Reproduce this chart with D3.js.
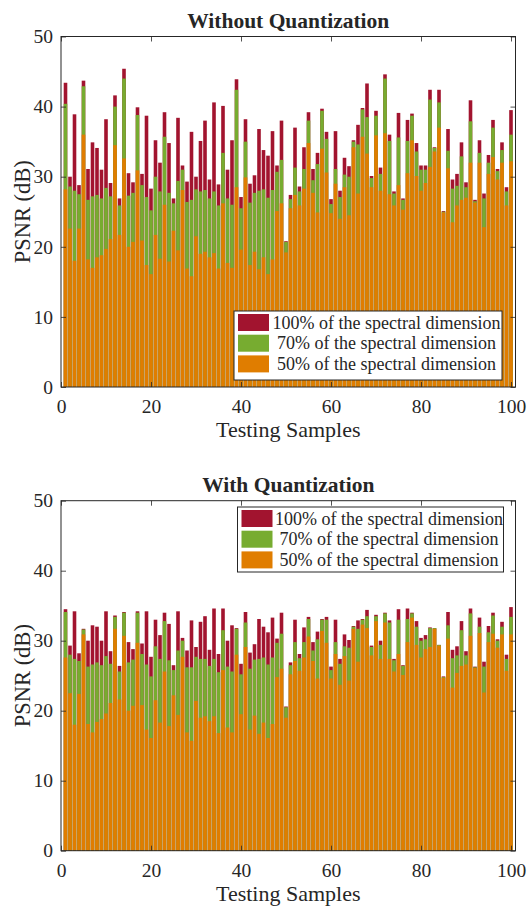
<!DOCTYPE html>
<html>
<head>
<meta charset="utf-8">
<script src="https://cdn.jsdelivr.net/npm/d3@7"></script>
<style>
  body { margin: 0; background: #fff; }
  text { font-family: "Liberation Serif", "Times New Roman", serif; fill: #262626; }
</style>
</head>
<body>
<svg id="chart" width="527" height="907"></svg>
<script>
// Testing sample indices
const samples = d3.range(1, 101);

// PSNR (dB) without quantization
const noQuant100 = [43.4,30.0,38.9,28.8,43.7,31.1,34.9,34.1,31.0,38.2,29.1,41.6,26.9,45.4,30.5,29.2,39.9,30.4,38.7,28.3,
  35.2,32.0,39.2,34.8,26.9,38.4,31.6,29.3,36.4,30.0,35.1,38.0,29.6,40.6,28.9,40.1,31.0,35.2,43.9,27.1,
  38.2,29.0,30.2,36.8,33.8,33.0,36.5,31.6,38.0,20.8,27.4,37.0,28.6,34.2,39.2,31.1,33.4,39.7,36.4,26.8,
  36.5,28.0,32.7,31.5,35.2,37.4,39.8,43.3,30.1,39.4,31.3,44.6,36.0,27.9,39.1,26.9,38.1,39.0,34.8,31.6,
  31.6,42.4,34.2,42.4,25.1,36.8,29.6,30.4,34.9,29.2,40.9,26.7,35.2,27.6,33.1,38.1,31.1,34.9,28.5,39.5];
const noQuant70 = [40.4,28.6,28.0,27.5,42.9,26.7,27.2,27.4,26.9,28.4,27.2,40.0,25.9,44.0,27.3,27.7,38.8,28.8,27.1,25.2,
  30.0,27.9,35.7,27.7,26.2,29.4,31.0,26.4,26.7,28.2,27.9,28.1,26.9,27.9,25.9,33.4,26.9,26.0,42.4,25.5,
  35.0,26.3,27.7,28.0,28.2,27.0,28.1,30.7,32.4,20.7,26.8,31.3,27.9,31.1,38.0,29.5,31.8,39.4,35.4,26.1,
  31.1,27.1,30.3,30.0,35.0,34.6,39.6,38.5,29.8,38.7,30.4,44.0,35.1,27.6,35.6,26.7,35.1,38.7,33.6,31.0,
  31.0,41.0,34.1,40.6,25.0,33.7,28.3,28.7,32.9,28.5,37.9,26.5,33.4,26.9,32.0,37.0,30.8,33.8,27.9,36.0];
const noQuant50 = [28.2,22.6,18.0,22.6,36.0,18.2,17.0,18.5,18.8,19.7,21.1,34.5,21.7,32.6,20.0,20.7,30.9,20.9,17.4,16.1,
  21.7,18.3,26.0,17.9,22.3,19.5,28.1,16.9,15.8,21.5,19.0,19.3,18.5,19.1,16.9,26.2,17.7,17.0,28.5,19.6,
  29.9,17.4,19.3,16.8,18.5,16.1,18.2,25.1,26.2,19.2,25.5,27.4,25.9,28.3,34.8,27.7,24.9,34.0,30.6,24.8,
  29.0,24.0,28.5,24.5,34.2,27.6,35.7,33.3,28.5,35.9,28.0,36.2,27.5,25.9,28.8,25.3,30.5,35.2,30.1,28.0,
  29.1,31.4,33.6,37.0,24.9,31.2,23.5,25.9,26.7,27.0,32.0,26.3,32.0,22.8,30.4,32.8,29.6,32.0,25.9,32.2];

// PSNR (dB) with quantization
const quant100 = [34.5,29.3,34.2,28.2,31.7,30.0,32.2,32.0,30.0,34.2,28.5,33.6,26.4,34.1,29.8,28.8,34.2,29.6,34.2,27.7,
  33.0,30.8,34.0,32.4,26.5,34.2,30.4,28.6,32.9,29.1,32.7,33.5,28.7,34.6,28.1,34.6,30.0,32.2,31.8,26.7,
  34.1,28.3,29.5,33.1,32.0,31.2,33.3,30.3,34.0,20.6,26.9,33.0,28.1,31.9,33.4,29.8,31.3,33.1,33.4,26.3,
  33.0,27.4,30.9,30.1,32.1,32.9,33.1,34.4,29.3,33.7,30.0,34.0,32.9,27.4,34.5,26.5,34.6,34.0,32.8,30.4,
  30.8,31.9,31.8,29.4,24.9,34.1,28.7,29.2,32.8,28.5,34.6,26.3,33.3,27.0,32.1,34.0,30.2,32.7,28.0,34.8];
const quant70 = [34.1,28.0,27.4,27.1,31.6,26.3,26.6,26.9,26.5,27.8,26.7,33.4,25.6,34.0,26.9,27.3,34.0,28.1,26.6,24.9,
  29.2,27.4,32.8,27.2,25.8,28.6,30.0,26.2,26.2,27.7,27.4,27.4,26.4,27.4,25.5,31.5,26.3,25.6,31.7,25.2,
  32.6,26.0,27.3,27.4,27.6,26.6,27.6,29.7,31.0,20.5,26.5,29.8,27.5,29.8,33.1,28.6,30.2,33.0,33.0,25.8,
  29.8,26.7,29.2,29.0,32.0,31.7,33.0,33.5,29.1,33.5,29.4,33.9,32.6,27.2,33.0,26.4,33.1,33.9,32.0,30.0,
  30.2,31.8,31.8,29.4,24.8,32.2,27.5,27.9,31.5,27.9,33.9,26.2,32.0,26.3,31.2,33.6,30.0,32.0,27.4,33.4];
const quant50 = [27.6,22.5,18.0,22.4,30.9,18.1,16.9,18.4,18.8,19.6,21.1,31.7,21.6,30.7,20.0,20.7,29.7,20.8,17.3,16.1,
  21.5,18.3,25.6,17.8,22.2,19.4,27.7,16.9,15.7,21.4,19.0,19.2,18.5,19.2,16.8,25.8,17.6,16.9,28.0,19.5,
  29.1,17.3,19.3,16.7,18.3,16.1,18.1,24.8,26.0,19.0,25.2,27.1,25.7,27.6,30.6,27.1,24.6,31.4,29.7,24.6,
  28.1,23.7,27.8,24.3,31.7,27.0,32.3,31.8,27.9,32.8,27.4,32.6,27.4,25.6,28.1,25.1,29.8,33.3,29.4,27.6,
  28.8,29.1,31.7,29.3,24.7,30.3,23.3,25.4,26.4,26.6,30.7,26.1,31.1,22.6,29.8,31.0,29.0,30.9,25.7,30.9];

const xTicks = [0, 20, 40, 60, 80, 100];
const yTicks = [0, 10, 20, 30, 40, 50];
const seriesNames = ["100% of the spectral dimension", "70% of the spectral dimension", "50% of the spectral dimension"];
const seriesColors = ["#A2142F", "#77AC30", "#E07D00"];

const svg = d3.select("#chart");
const axisColor = "#262626";

function drawPanel(opts) {
  const { top, bottom, title, series, legend } = opts;
  const left = 61, right = 515.5;
  const x = d3.scaleLinear().domain([0, 101]).range([left, right]);
  const y = d3.scaleLinear().domain([0, 50]).range([bottom, top]);
  const g = svg.append("g");
  const bw = x(0.8) - x(0);

  // bars: widest range first so narrower ranges sit on top
  series.forEach((vals, k) => {
    g.append("g").selectAll("rect")
      .data(samples.map((s, i) => ({ s, v: vals[i] })))
      .join("rect")
      .attr("x", d => x(d.s) - bw / 2)
      .attr("width", bw)
      .attr("y", d => y(d.v))
      .attr("height", d => y(0) - y(d.v))
      .attr("fill", seriesColors[k]);
  });

  // axes with inward ticks on all four sides
  const styleAxis = sel => {
    sel.select(".domain").remove();
    sel.selectAll("line").attr("stroke", axisColor).attr("stroke-width", 0.8);
    sel.selectAll("text").style("font-family", "Liberation Serif, serif").style("font-size", "19.5px").attr("fill", axisColor);
  };
  g.append("g").attr("transform", `translate(0,${bottom})`)
    .call(d3.axisBottom(x).tickValues(xTicks).tickSizeInner(-5).tickSizeOuter(0).tickPadding(12))
    .call(styleAxis);
  g.append("g").attr("transform", `translate(0,${top})`)
    .call(d3.axisTop(x).tickValues(xTicks).tickSizeInner(-5).tickSizeOuter(0).tickFormat(""))
    .call(styleAxis);
  g.append("g").attr("transform", `translate(${left},0)`)
    .call(d3.axisLeft(y).tickValues(yTicks).tickSizeInner(-5).tickSizeOuter(0).tickPadding(8))
    .call(styleAxis);
  g.append("g").attr("transform", `translate(${right},0)`)
    .call(d3.axisRight(y).tickValues(yTicks).tickSizeInner(-5).tickSizeOuter(0).tickFormat(""))
    .call(styleAxis);

  g.append("rect")
    .attr("x", left).attr("y", top)
    .attr("width", right - left).attr("height", bottom - top)
    .attr("fill", "none").attr("stroke", axisColor).attr("stroke-width", 1);

  // title and axis labels
  g.append("text")
    .attr("x", (left + right) / 2).attr("y", top - 9)
    .attr("text-anchor", "middle")
    .style("font-size", "21.5px").style("font-weight", "bold")
    .attr("fill", "#000")
    .text(title);
  g.append("text")
    .attr("x", (left + right) / 2).attr("y", bottom + 50)
    .attr("text-anchor", "middle")
    .style("font-size", "22px")
    .text("Testing Samples");
  g.append("text")
    .attr("transform", `translate(30,${(top + bottom) / 2}) rotate(-90)`)
    .attr("text-anchor", "middle")
    .style("font-size", "22.5px")
    .text("PSNR (dB)");

  // legend
  const lg = g.append("g").attr("transform", `translate(${legend.x},${legend.y})`);
  lg.append("rect")
    .attr("width", legend.w).attr("height", legend.h)
    .attr("fill", "#fff").attr("stroke", axisColor).attr("stroke-width", 1);
  seriesNames.forEach((name, k) => {
    lg.append("rect")
      .attr("x", 4).attr("y", 3 + k * 20.7)
      .attr("width", 31).attr("height", 17)
      .attr("fill", seriesColors[k]);
    lg.append("text")
      .attr("x", 37 + (legend.w - 37) / 2).attr("y", 17.5 + k * 20.7)
      .attr("text-anchor", "middle")
      .style("font-size", "18px")
      .attr("fill", "#000")
      .text(name);
  });
}

drawPanel({
  top: 36.5, bottom: 387, title: "Without Quantization",
  series: [noQuant100, noQuant70, noQuant50],
  legend: { x: 234, y: 311, w: 268, h: 69 }
});
drawPanel({
  top: 500.7, bottom: 850.7, title: "With Quantization",
  series: [quant100, quant70, quant50],
  legend: { x: 237.5, y: 507, w: 266, h: 65 }
});
</script>
</body>
</html>
